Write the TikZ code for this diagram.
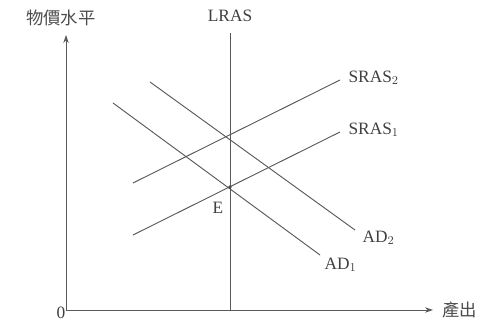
\documentclass[tikz,border=0pt]{standalone}
\usepackage{fontspec}
\setmainfont{Liberation Serif}
\newfontfamily\cjk{Noto Sans CJK TC}
\usetikzlibrary{arrows.meta}
\begin{document}
\begin{tikzpicture}[x=0.75pt,y=-0.75pt,
  curve/.style={draw=black!65, line width=0.7pt},
  axis/.style={draw=black!65, line width=0.7pt, -{Stealth[length=6pt,width=4pt]}},
  lbl/.style={font=\fontsize{13}{15}\selectfont, text=black!75, inner sep=1pt},
  cjklbl/.style={font=\cjk\fontsize{13}{15}\selectfont, text=black!70, inner sep=0pt}]
\useasboundingbox (0,0) rectangle (482,323);
% axes
\coordinate (O) at (66,310);
\coordinate (ytop) at (66,35);
\coordinate (xend) at (433,310);
\draw[axis] (O) -- (ytop);
\draw[axis] (O) -- (xend);
\node[lbl] (zero) at (61,313) {0};
\node[cjklbl, anchor=west] (ylab) at (26,18) {物價水平};
\node[cjklbl, anchor=west] (xlab) at (442,310) {產出};
% LRAS
\coordinate (l1) at (230,33);
\coordinate (l2) at (230,310);
\draw[curve] (l1) -- (l2);
\node[lbl] (lras) at (230,16) {LRAS};
% SRAS curves
\coordinate (s2a) at (133,183);
\coordinate (s2b) at (340,80);
\draw[curve] (s2a) -- (s2b);
\node[lbl, anchor=west] (sras2) at (347,78) {SRAS$_2$};
\coordinate (s1a) at (133,235);
\coordinate (s1b) at (340,132);
\draw[curve] (s1a) -- (s1b);
\node[lbl, anchor=west] (sras1) at (347,130) {SRAS$_1$};
% AD curves
\coordinate (d2a) at (150,82);
\coordinate (d2b) at (355,230);
\draw[curve] (d2a) -- (d2b);
\node[lbl, anchor=west] (ad2) at (361,238) {AD$_2$};
\coordinate (d1a) at (113,103);
\coordinate (d1b) at (320,255);
\draw[curve] (d1a) -- (d1b);
\node[lbl, anchor=west] (ad1) at (323,265) {AD$_1$};
% equilibrium
\fill[black!70] (230,187) circle (1.8);
\node[lbl] (E) at (218,208) {E};
\end{tikzpicture}
\end{document}
